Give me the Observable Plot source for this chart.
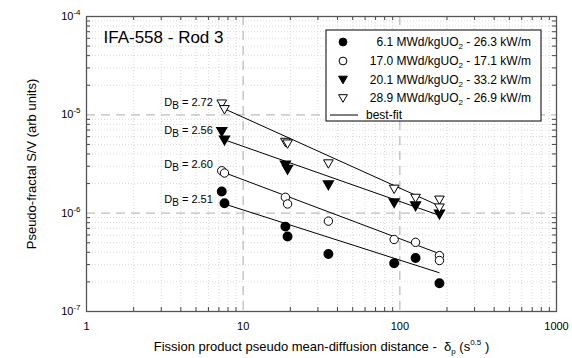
<!DOCTYPE html>
<html>
<head>
<meta charset="utf-8">
<script src="https://cdn.jsdelivr.net/npm/d3@7"></script>
<script src="https://cdn.jsdelivr.net/npm/@observablehq/plot@0.6"></script>
<style>
  html, body { margin: 0; padding: 0; background: #fff; }
  #chart { width: 572px; height: 358px; }
</style>
</head>
<body>
<div id="chart"></div>
<script>
// Pseudo-fractal S/V vs pseudo mean-diffusion distance, IFA-558 Rod 3

// Series: burn-up (MWd/kgUO2) and linear power (kW/m)
const burnups = ["6.1", "17.0", "20.1", "28.9"];
const powers = ["26.3", "17.1", "33.2", "26.9"];

// Measured points per series
const x61 = [7.3, 7.6, 18.6, 19.2, 35, 92, 126, 179];
const y61 = [1.66e-6, 1.26e-6, 7.3e-7, 5.8e-7, 3.85e-7, 3.1e-7, 3.5e-7, 1.94e-7];

const x170 = [7.3, 7.6, 18.6, 19.2, 35, 92, 126, 179, 179];
const y170 = [2.70e-6, 2.56e-6, 1.45e-6, 1.24e-6, 8.3e-7, 5.4e-7, 5.05e-7, 3.7e-7, 3.3e-7];

const x201 = [7.3, 7.6, 18.6, 19.2, 35, 92, 126, 179];
const y201 = [6.8e-6, 5.55e-6, 3.1e-6, 2.8e-6, 1.95e-6, 1.28e-6, 1.19e-6, 9.8e-7];

const x289 = [7.3, 7.6, 18.6, 19.2, 35, 92, 126, 179, 179];
const y289 = [1.30e-5, 1.14e-5, 5.3e-6, 5.1e-6, 3.2e-6, 1.77e-6, 1.43e-6, 1.37e-6, 1.14e-6];

// Best-fit lines: boundary fractal dimension D_B gives slope (2 - D_B) in log-log
const dB = [2.51, 2.60, 2.56, 2.72];
const fitX = [7.6, 178];
const fitStart = [1.24e-6, 2.58e-6, 5.57e-6, 1.15e-5];
const labelX = 6.4;
const labelY = [1.37e-6, 3.1e-6, 6.9e-6, 1.35e-5];

// Axis ticks
const xTicks = [1, 10, 100, 1000];
const yTicks = [1e-7, 1e-6, 1e-5, 1e-4];
const xMajor = [10, 100];
const yMajor = [1e-6, 1e-5];

const xMinor = [1, 10, 100].flatMap(d => [2, 3, 4, 5, 6, 7, 8, 9].map(k => k * d));
const yMinor = [1e-7, 1e-6, 1e-5].flatMap(d => [2, 3, 4, 5, 6, 7, 8, 9].map(k => +(k * d).toPrecision(3)));

const toRows = (xs, ys) => xs.map((x, i) => ({x, y: ys[i]}));
const pts = [toRows(x61, y61), toRows(x170, y170), toRows(x201, y201), toRows(x289, y289)];

const fitRows = dB.flatMap((d, i) => [
  {s: i, x: fitX[0], y: fitStart[i]},
  {s: i, x: fitX[1], y: fitStart[i] * Math.pow(fitX[1] / fitX[0], 2 - d)}
]);
const labelRows = dB.map((d, i) => ({x: labelX, y: labelY[i], text: "D_B = " + d.toFixed(2)}));

// Downward-pointing triangle symbol
const triangleDown = {
  draw(context, size) {
    const r = Math.sqrt(size / Math.PI);
    const w = r * 1.12, top = -r * 0.85, bottom = r * 1.1;
    context.moveTo(-w, top);
    context.lineTo(w, top);
    context.lineTo(0, bottom);
    context.closePath();
  }
};

const W = 572, H = 358;
const mL = 86, mR = 16, mT = 16, mB = 47;
const fw = W - mL - mR, fh = H - mT - mB;
const tick = 4;
const FONT = "'Liberation Sans', Arial, Helvetica, sans-serif";

const plot = Plot.plot({
  width: W,
  height: H,
  marginLeft: mL, marginRight: mR, marginTop: mT, marginBottom: mB,
  style: {fontFamily: FONT, fontSize: "11px", background: "white", color: "black"},
  x: {type: "log", domain: [1, 1000], ticks: xTicks, tickFormat: d => String(d), tickSize: 0, tickPadding: 11, label: null},
  y: {type: "log", domain: [1e-7, 1e-4], ticks: yTicks, tickFormat: d => "10^" + Math.round(Math.log10(d)), tickSize: 0, tickPadding: 6, label: null},
  marks: [
    // faint dotted minor grid
    Plot.ruleX(xMinor, {stroke: "#d9d9d9", strokeDasharray: "1,2"}),
    Plot.ruleY(yMinor, {stroke: "#d9d9d9", strokeDasharray: "1,2"}),
    // dashed major grid
    Plot.ruleX(xMajor, {stroke: "#bdbdbd", strokeWidth: 1.3, strokeDasharray: "9,6"}),
    Plot.ruleY(yMajor, {stroke: "#bdbdbd", strokeWidth: 1.3, strokeDasharray: "9,6"}),
    // inward minor ticks on all four sides
    Plot.ruleX(xMinor, {insetTop: fh - tick, stroke: "#444"}),
    Plot.ruleX(xMinor, {insetBottom: fh - tick, stroke: "#444"}),
    Plot.ruleY(yMinor, {insetRight: fw - tick, stroke: "#444"}),
    Plot.ruleY(yMinor, {insetLeft: fw - tick, stroke: "#444"}),
    Plot.frame({stroke: "#555", strokeWidth: 1.3}),
    // best-fit lines
    Plot.line(fitRows, {x: "x", y: "y", z: "s", stroke: "black", strokeWidth: 1}),
    // data
    Plot.dot(pts[0], {x: "x", y: "y", r: 4.2, fill: "black", stroke: "black"}),
    Plot.dot(pts[1], {x: "x", y: "y", r: 4.2, fill: "white", stroke: "black", strokeWidth: 1}),
    Plot.dot(pts[2], {x: "x", y: "y", r: 4.3, symbol: triangleDown, fill: "black", stroke: "black"}),
    Plot.dot(pts[3], {x: "x", y: "y", r: 4.3, symbol: triangleDown, fill: "white", stroke: "black", strokeWidth: 1}),
    // D_B annotations
    Plot.text(labelRows, {x: "x", y: "y", text: "text", textAnchor: "end", fontSize: 11, fill: "black"}),
    // title
    Plot.text(["IFA-558 - Rod 3"], {frameAnchor: "top-left", dx: 17, dy: 14, lineAnchor: "top", textAnchor: "start", fontSize: 17, fill: "black"}),
    // axis titles
    Plot.text(["Pseudo-fractal S/V (arb units)"], {frameAnchor: "left", dx: -55, rotate: -90, textAnchor: "middle", fontSize: 13, fill: "black"}),
    Plot.text(["AXIS_X_TITLE"], {frameAnchor: "bottom", dy: 39, textAnchor: "middle", fontSize: 13, fill: "black"})
  ]
});

document.getElementById("chart").appendChild(plot);
const svg = d3.select(plot.tagName.toLowerCase() === "svg" ? plot : plot.querySelector("svg"));

// Rebuild a text element from parts with sub/superscripts
function setParts(el, parts) {
  const t = d3.select(el);
  t.text(null);
  parts.forEach(p => {
    const s = t.append("tspan").text(p.t);
    if (p.dy) s.attr("dy", p.dy);
    if (p.size) s.attr("font-size", p.size);
  });
}

svg.selectAll("text").each(function() {
  const txt = this.textContent;
  let m;
  if ((m = /^10\^(-?\d+)$/.exec(txt))) {
    setParts(this, [{t: "10"}, {t: m[1], dy: -5, size: 8}]);
  } else if ((m = /^D_B = (.*)$/.exec(txt))) {
    setParts(this, [{t: "D"}, {t: "B", dy: 3, size: 10}, {t: " = " + m[1], dy: -3}]);
  } else if (txt === "AXIS_X_TITLE") {
    setParts(this, [
      {t: "Fission product pseudo mean-diffusion distance -  \u03B4"},
      {t: "p", dy: 3, size: 8},
      {t: " (s", dy: -3},
      {t: "0.5", dy: -6, size: 8},
      {t: " )", dy: 6}
    ]);
  }
});

// Legend
const lg = svg.append("g").attr("font-family", FONT).attr("font-size", 12).attr("fill", "black");
const box = {x: 326, y: 30, w: 215, h: 91};
lg.append("rect").attr("x", box.x).attr("y", box.y).attr("width", box.w).attr("height", box.h)
  .attr("fill", "white").attr("stroke", "black").attr("stroke-width", 1);
const rowY = [42, 61, 79.5, 98];
const symX = 343;
const sym = [
  {kind: "circle", fill: "black"},
  {kind: "circle", fill: "white"},
  {kind: "tri", fill: "black"},
  {kind: "tri", fill: "white"}
];
const triPath = d3.path();
triangleDown.draw(triPath, 3.9 * 3.9 * Math.PI);
burnups.forEach((b, i) => {
  const y = rowY[i];
  if (sym[i].kind === "circle") {
    lg.append("circle").attr("cx", symX).attr("cy", y).attr("r", 3.9)
      .attr("fill", sym[i].fill).attr("stroke", "black");
  } else {
    lg.append("path").attr("d", triPath.toString()).attr("transform", `translate(${symX},${y})`)
      .attr("fill", sym[i].fill).attr("stroke", "black");
  }
  const t = lg.append("text").attr("x", 531).attr("y", y).attr("dy", "0.35em").attr("text-anchor", "end");
  t.append("tspan").text(`${b} MWd/kgUO`);
  t.append("tspan").attr("dy", 3).attr("font-size", 8).text("2");
  t.append("tspan").attr("dy", -3).text(` - ${powers[i]} kW/m`);
});
lg.append("line").attr("x1", 330).attr("x2", 358).attr("y1", 115).attr("y2", 115).attr("stroke", "black");
lg.append("text").attr("x", 366).attr("y", 115).attr("dy", "0.35em").attr("text-anchor", "start").text("best-fit");
</script>
</body>
</html>
